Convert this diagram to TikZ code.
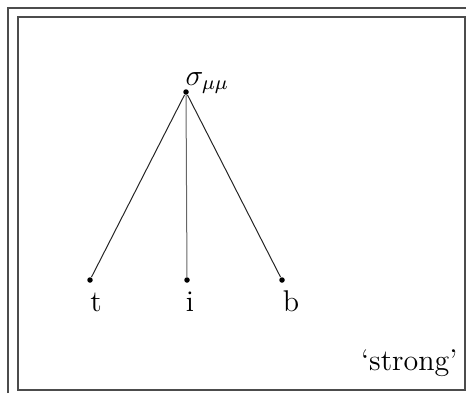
\documentclass[tikz,border=0pt]{standalone}
\usepackage{fontspec}
\begin{document}
\begin{tikzpicture}[x=0.4pt,y=-0.4pt,
  font=\fontsize{12}{14}\selectfont,
  frame/.style={draw=black!70,line width=0.5pt},
  leaf/.style={circle,fill=black,inner sep=0pt,minimum size=2.2pt},
  branch/.style={draw=black!85,line width=0.4pt},
  lbl/.style={anchor=base,inner sep=0pt}]
\useasboundingbox (0,0) rectangle (466,393);
\draw[frame] (8,393) -- (8,8) -- (466,8);
\draw[frame] (18,17) rectangle (465,390);
\node[leaf] (s) at (186,92) {};
\node[leaf] (t) at (90,280) {};
\node[leaf] (i) at (187,280) {};
\node[leaf] (b) at (282,280) {};
\draw[branch] (s) -- (t);
\draw[branch,draw=black!60] (s) -- (i);
\draw[branch] (s) -- (b);
\node[anchor=base west,inner sep=0pt] (sl) at (185,85) {$\sigma_{\mu\mu}$};
\node[lbl] (tl) at (96,311) {t};
\node[lbl] (il) at (190,311) {i};
\node[lbl] (bl) at (291,311) {b};
\node[anchor=base east,inner sep=0pt] (st) at (458,370) {‘strong’};
\end{tikzpicture}
\end{document}
